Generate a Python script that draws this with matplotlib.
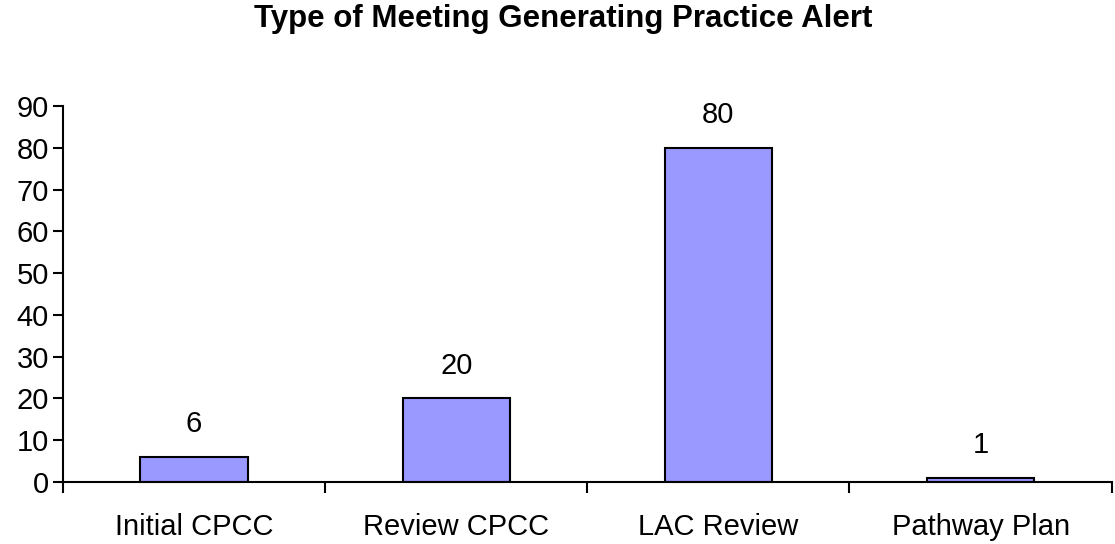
import matplotlib.pyplot as plt
import numpy as np

# chart data
categories = ["Initial CPCC", "Review CPCC", "LAC Review", "Pathway Plan"]
counts = [6, 20, 80, 1]
y_ticks = list(range(0, 100, 10))

plt.rcParams['font.family'] = ['Liberation Sans', 'DejaVu Sans']

fig = plt.figure(figsize=(11.15, 5.44), dpi=100)
ax = fig.add_axes([0.0565, 0.114, 0.9405, 0.691])

x = np.arange(len(categories))
ax.bar(x, counts, width=0.41, color='#9999FF', edgecolor='black', linewidth=1.5)

# value labels above bars
for xi, v in zip(x, counts):
    ax.annotate(str(v), (xi, v), textcoords="offset points", xytext=(0, 23.5),
                ha='center', va='center', fontsize=21)

ax.set_xlim(-0.5, len(categories) - 0.5)
ax.set_ylim(0, 90)
ax.set_yticks(y_ticks)
ax.tick_params(axis='y', labelsize=21, length=7, width=1.5, pad=3)

# category labels at centers, tick marks at boundaries
ax.set_xticks(x)
ax.set_xticklabels(categories, fontsize=21)
ax.tick_params(axis='x', which='major', length=0, pad=22)
ax.set_xticks(np.arange(len(categories) + 1) - 0.5, minor=True)
ax.tick_params(axis='x', which='minor', length=8, width=1.5, direction='out')

for s in ['top', 'right']:
    ax.spines[s].set_visible(False)
for s in ['left', 'bottom']:
    ax.spines[s].set_linewidth(1.5)

fig.suptitle("Type of Meeting Generating Practice Alert", fontsize=22.5,
             fontweight='bold', y=0.965, va='center', x=0.505)

fig.savefig("out.png", dpi=100)
